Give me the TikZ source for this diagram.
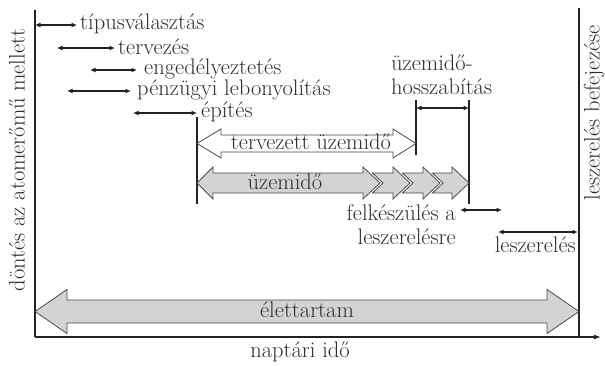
\documentclass[tikz,border=0pt]{standalone}
\usetikzlibrary{arrows.meta}
\definecolor{ink}{HTML}{222222}
\definecolor{txt}{HTML}{2E2E2E}
\definecolor{gfill}{HTML}{D3D3D3}
\definecolor{gline}{HTML}{4A4A4A}
\tikzset{
  lbl/.style={text=txt, inner sep=0pt, font=\fontsize{22.5}{24}\selectfont},
  dimarrow/.style={ink, line width=1.2pt, {Latex[length=5.5pt,width=5pt]}-{Latex[length=5.5pt,width=5pt]}},
  bar/.style={ink, line width=1.6pt},
  bigarrow/.style={draw=gline, line width=0.8pt, fill=gfill},
  whitearrow/.style={draw=gline, line width=0.8pt, fill=white},
}
\begin{document}
\begin{tikzpicture}[x=1pt,y=-1pt]
\useasboundingbox (0,0) rectangle (605,365);

% axes and main vertical bars
\coordinate (ax0) at (35,337);
\coordinate (ax1) at (601,337);
\coordinate (lt) at (35,10);
\coordinate (rt) at (579,8);
\coordinate (rb) at (579,337);
\draw[bar] (lt) -- (ax0);
\draw[bar] (rt) -- (rb);
\draw[ink, line width=1.3pt, -{Latex[length=7pt,width=5pt]}] (ax0) -- (ax1);
\node[lbl] (xlab) at (300,352) {naptári idő};
\node[lbl, rotate=90] (ylab) at (17,160) {döntés az atomerőmű mellett};
\node[lbl, rotate=90] (endlab) at (594,113) {leszerelés befejezése};

% early phases
\coordinate (p1a) at (35,25);  \coordinate (p1b) at (77,25);
\coordinate (p2a) at (57,48);  \coordinate (p2b) at (115,48);
\coordinate (p3a) at (90,70);  \coordinate (p3b) at (137,70);
\coordinate (p4a) at (67,91);  \coordinate (p4b) at (131,91);
\coordinate (p5a) at (133,113); \coordinate (p5b) at (197,113);
\draw[dimarrow] (p1a) -- (p1b);
\draw[dimarrow] (p2a) -- (p2b);
\draw[dimarrow] (p3a) -- (p3b);
\draw[dimarrow] (p4a) -- (p4b);
\draw[dimarrow] (p5a) -- (p5b);
\node[lbl, anchor=west] (l1) at (80,24) {típusválasztás};
\node[lbl, anchor=west] (l2) at (118,47) {tervezés};
\node[lbl, anchor=west] (l3) at (144,69) {engedélyeztetés};
\node[lbl, anchor=west] (l4) at (137,90) {pénzügyi lebonyolítás};
\node[lbl, anchor=west] (l5) at (201,112) {építés};

% operating bars
\coordinate (v1t) at (197,117); \coordinate (v1b) at (197,204);
\coordinate (v2t) at (416,100); \coordinate (v2b) at (416,155);
\coordinate (v3t) at (469,100); \coordinate (v3b) at (469,204);
\draw[bar] (v1t) -- (v1b);
\draw[bar] (v2t) -- (v2b);
\draw[bar] (v3t) -- (v3b);
\coordinate (ea) at (416,108); \coordinate (eb) at (469,108);
\draw[dimarrow] (ea) -- (eb);
\node[lbl, anchor=west, align=left] (ext) at (391,75) {üzemidő-\\hosszabítás};

% planned lifetime (white double arrow)
\draw[whitearrow] (197,143.5) -- (221,129) -- (221,135) -- (393,135) -- (393,129)
  -- (416,143.5) -- (393,158) -- (393,152) -- (221,152) -- (221,158) -- cycle;
\node[lbl] (tu) at (311,142) {tervezett üzemidő};

% actual operation (grey) with extensions
\draw[bigarrow] (197,183) -- (213,167) -- (213,173) -- (363,173) -- (363,167)
  -- (380,183) -- (363,199) -- (363,193) -- (213,193) -- (213,199) -- cycle;
\draw[bigarrow] (372.4,173) -- (393,173) -- (393,167) -- (410,183) -- (393,199)
  -- (393,193) -- (372.4,193) -- (383,183) -- cycle;
\draw[bigarrow] (402.4,173) -- (423,173) -- (423,167) -- (440,183) -- (423,199)
  -- (423,193) -- (402.4,193) -- (413,183) -- cycle;
\draw[bigarrow] (432.4,173) -- (452,173) -- (452,167) -- (469,183) -- (452,199)
  -- (452,193) -- (432.4,193) -- (443,183) -- cycle;
\node[lbl] (uz) at (285,182) {üzemidő};

% decommissioning
\coordinate (fa) at (460,210); \coordinate (fb) at (502,210);
\draw[dimarrow] (fa) -- (fb);
\node[lbl, anchor=east, align=right] (felk) at (456,225) {felkészülés a\\leszerelésre};
\coordinate (da) at (498,232); \coordinate (db) at (578,232);
\draw[dimarrow] (da) -- (db);
\node[lbl, anchor=east] (lesz) at (576,245) {leszerelés};

% lifetime
\draw[bigarrow] (35,311.5) -- (67,289.5) -- (67,300) -- (547,300) -- (547,289.5)
  -- (579,311.5) -- (547,333.5) -- (547,323) -- (67,323) -- (67,333.5) -- cycle;
\node[lbl] (elet) at (307,310) {élettartam};
\end{tikzpicture}
\end{document}
